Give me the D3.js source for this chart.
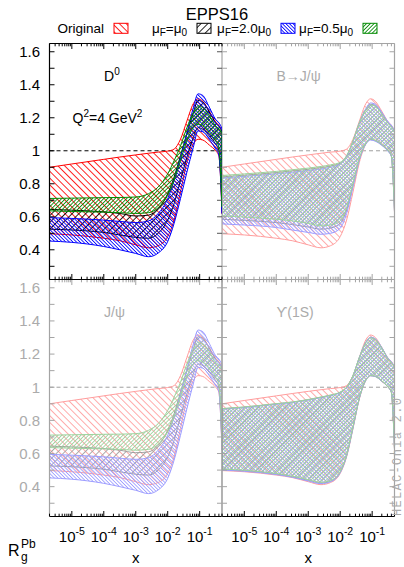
<!DOCTYPE html>
<html>
<head>
<meta charset="utf-8">
<script src="https://cdn.jsdelivr.net/npm/d3@7"></script>
<style>
  html, body { margin: 0; padding: 0; background: #fff; }
  svg { display: block; }
</style>
</head>
<body>
<svg id="chart" width="404" height="567"></svg>
<script>
// ---------------------------------------------------------------
// Data: nuclear modification R_g^Pb at Q^2 = 4 GeV^2 (EPPS16),
// original band and reweighted bands for three factorisation scales.
// All curves are sampled on the same log10(x) grid.
// ---------------------------------------------------------------
const logX = [-5.7, -5, -4, -3.5, -3, -2.6, -2.3, -2, -1.8, -1.6, -1.4, -1.2, -1.05, -0.9, -0.7, -0.5, -0.4, -0.35, -0.3];

const seriesNames = ["Original", "μF=μ0", "μF=2.0μ0", "μF=0.5μ0"];
const panelNames = ["D0", "B→J/ψ", "J/ψ", "ϒ(1S)"];

const xMajorTicks = [1e-5, 1e-4, 1e-3, 1e-2, 1e-1];
const xTickExponents = ["-5", "-4", "-3", "-2", "-1"];
const yTickLabels = [0.4, 0.6, 0.8, 1.0, 1.2, 1.4, 1.6];

// Original EPPS16 band (same in every panel)
const origUpper = [0.900, 0.920, 0.948, 0.962, 0.975, 0.985, 0.992, 0.998, 1.010, 1.070, 1.180, 1.285, 1.315, 1.300, 1.240, 1.175, 1.155, 1.140, 1.120];
const origLower = [0.497, 0.490, 0.470, 0.455, 0.430, 0.412, 0.425, 0.480, 0.580, 0.750, 0.930, 1.040, 1.070, 1.065, 1.035, 1.000, 0.970, 0.850, 0.620];

// Reweighted with D0 data (J/psi data give the same bands)
const d0Mu1Upper  = [0.645, 0.640, 0.630, 0.620, 0.605, 0.610, 0.650, 0.740, 0.840, 0.970, 1.100, 1.230, 1.305, 1.295, 1.235, 1.170, 1.150, 1.135, 1.115];
const d0Mu1Lower  = [0.525, 0.520, 0.505, 0.490, 0.475, 0.470, 0.500, 0.580, 0.680, 0.820, 0.960, 1.080, 1.140, 1.130, 1.090, 1.040, 1.000, 0.870, 0.640];
const d0Mu2Upper  = [0.595, 0.590, 0.580, 0.572, 0.565, 0.575, 0.620, 0.710, 0.820, 0.960, 1.110, 1.260, 1.345, 1.335, 1.265, 1.190, 1.170, 1.155, 1.135];
const d0Mu2Lower  = [0.453, 0.445, 0.420, 0.400, 0.378, 0.358, 0.380, 0.450, 0.560, 0.710, 0.870, 1.020, 1.120, 1.115, 1.070, 1.010, 0.975, 0.850, 0.620];
const d0Mu05Upper = [0.711, 0.713, 0.716, 0.717, 0.720, 0.740, 0.780, 0.860, 0.940, 1.030, 1.140, 1.230, 1.272, 1.262, 1.215, 1.150, 1.135, 1.125, 1.105];
const d0Mu05Lower = [0.636, 0.632, 0.628, 0.625, 0.620, 0.625, 0.655, 0.730, 0.820, 0.940, 1.060, 1.140, 1.160, 1.150, 1.110, 1.060, 1.020, 0.890, 0.660];

// Reweighted with B -> J/psi data
const bMu1Upper  = [0.842, 0.852, 0.868, 0.878, 0.888, 0.898, 0.908, 0.925, 0.968, 1.058, 1.168, 1.250, 1.282, 1.275, 1.228, 1.170, 1.150, 1.135, 1.115];
const bMu1Lower  = [0.585, 0.578, 0.565, 0.553, 0.538, 0.525, 0.532, 0.560, 0.640, 0.790, 0.950, 1.042, 1.068, 1.060, 1.035, 0.998, 0.968, 0.848, 0.628];
const bMu2Upper  = [0.835, 0.845, 0.860, 0.870, 0.880, 0.890, 0.900, 0.920, 0.965, 1.055, 1.170, 1.255, 1.290, 1.282, 1.233, 1.175, 1.155, 1.140, 1.120];
const bMu2Lower  = [0.557, 0.550, 0.535, 0.520, 0.505, 0.494, 0.500, 0.530, 0.620, 0.780, 0.945, 1.040, 1.065, 1.058, 1.033, 0.995, 0.965, 0.845, 0.625];
const bMu05Upper = [0.850, 0.860, 0.875, 0.885, 0.895, 0.905, 0.915, 0.930, 0.970, 1.060, 1.170, 1.248, 1.278, 1.270, 1.222, 1.165, 1.145, 1.130, 1.110];
const bMu05Lower = [0.605, 0.598, 0.585, 0.575, 0.560, 0.545, 0.550, 0.575, 0.655, 0.800, 0.955, 1.045, 1.072, 1.063, 1.038, 1.000, 0.970, 0.850, 0.630];

// Reweighted with Upsilon(1S) data
const upsMu1Upper  = [0.870, 0.880, 0.900, 0.910, 0.925, 0.940, 0.952, 0.970, 1.000, 1.070, 1.180, 1.270, 1.300, 1.290, 1.238, 1.172, 1.152, 1.138, 1.118];
const upsMu1Lower  = [0.503, 0.496, 0.476, 0.460, 0.438, 0.422, 0.433, 0.487, 0.587, 0.757, 0.935, 1.042, 1.070, 1.065, 1.037, 1.000, 0.970, 0.850, 0.620];
const upsMu2Upper  = [0.868, 0.878, 0.898, 0.908, 0.923, 0.938, 0.950, 0.968, 0.998, 1.068, 1.180, 1.272, 1.302, 1.292, 1.240, 1.174, 1.154, 1.140, 1.120];
const upsMu2Lower  = [0.500, 0.493, 0.473, 0.457, 0.434, 0.418, 0.430, 0.484, 0.584, 0.754, 0.933, 1.041, 1.069, 1.064, 1.036, 1.000, 0.970, 0.850, 0.620];
const upsMu05Upper = [0.871, 0.881, 0.901, 0.911, 0.926, 0.941, 0.953, 0.971, 1.001, 1.071, 1.180, 1.268, 1.298, 1.288, 1.236, 1.170, 1.150, 1.136, 1.116];
const upsMu05Lower = [0.506, 0.499, 0.479, 0.463, 0.442, 0.426, 0.437, 0.490, 0.590, 0.760, 0.937, 1.043, 1.071, 1.066, 1.038, 1.001, 0.971, 0.851, 0.621];

// ---------------------------------------------------------------
// Styling
// ---------------------------------------------------------------
const FONT = '"Liberation Sans", Arial, Helvetica, sans-serif';
const GREY = '#a4a4a4';
const TEXT_GREY = '#ababab';
const FADE = 0.38;
const seriesColors = ['#ff0000', '#000000', '#0000ff', '#008a00'];
const hatchAngles = [-45, 45, -45, 45];
const hatchGaps = [4.8, 4.8, 2.5, 2.7];

const svg = d3.select('#chart');
const defs = svg.append('defs');

// hatch patterns: thin lines rotated into "\" or "/" direction
seriesColors.forEach((c, i) => {
  const g = hatchGaps[i];
  const p = defs.append('pattern')
    .attr('id', 'hatch' + i)
    .attr('patternUnits', 'userSpaceOnUse')
    .attr('width', g).attr('height', 10)
    .attr('patternTransform', `rotate(${hatchAngles[i]})`);
  p.append('rect').attr('x', 0).attr('y', 0).attr('width', 0.85).attr('height', 10).attr('fill', c);
});

// layout of the 2x2 grid
const colX = [[49.5, 222], [222, 394.5]];
const rowY = [[43.5, 279.5], [279.5, 516.5]];
const xDomain = [2e-6, 0.5];
const yDomain = [0.22, 1.65];

const zip = (up, lo) => logX.map((lx, i) => ({ lx, up: up[i], lo: lo[i] }));
const origBand = zip(origUpper, origLower);

const panels = [
  { name: panelNames[1], col: 1, row: 0, faded: true,
    bands: [origBand, zip(bMu1Upper, bMu1Lower), zip(bMu2Upper, bMu2Lower), zip(bMu05Upper, bMu05Lower)] },
  { name: panelNames[2], col: 0, row: 1, faded: true,
    bands: [origBand, zip(d0Mu1Upper, d0Mu1Lower), zip(d0Mu2Upper, d0Mu2Lower), zip(d0Mu05Upper, d0Mu05Lower)] },
  { name: panelNames[3], col: 1, row: 1, faded: true,
    bands: [origBand, zip(upsMu1Upper, upsMu1Lower), zip(upsMu2Upper, upsMu2Lower), zip(upsMu05Upper, upsMu05Lower)] },
  { name: panelNames[0], col: 0, row: 0, faded: false,
    bands: [origBand, zip(d0Mu1Upper, d0Mu1Lower), zip(d0Mu2Upper, d0Mu2Lower), zip(d0Mu05Upper, d0Mu05Lower)] },
];

// minor log ticks 2..9 x 10^n inside the domain
const xMinorTicks = [];
for (let e = -6; e <= -1; e++) {
  for (let k = 2; k <= 9; k++) {
    const v = k * Math.pow(10, e);
    if (v >= xDomain[0] && v <= xDomain[1] * 1.0001) xMinorTicks.push(v);
  }
}
const yTicks = d3.range(3, 17).map(d => d / 10);

function labelText(sel, name) {
  // panel labels with sub/superscripts
  if (name === 'D0') {
    sel.append('tspan').text('D');
    sel.append('tspan').attr('dy', -6).attr('font-size', 10).text('0');
  } else {
    sel.text(name);
  }
}

panels.forEach((pn, idx) => {
  const [x0, x1] = colX[pn.col];
  const [y0, y1] = rowY[pn.row];
  const x = d3.scaleLog().domain(xDomain).range([x0, x1]);
  const y = d3.scaleLinear().domain(yDomain).range([y1, y0]);
  const ink = pn.faded ? GREY : '#000';

  const clipId = 'clip' + idx;
  defs.append('clipPath').attr('id', clipId)
    .append('rect').attr('x', x0).attr('y', y0).attr('width', x1 - x0).attr('height', y1 - y0);

  const g = svg.append('g');
  const data = g.append('g').attr('clip-path', `url(#${clipId})`)
    .attr('opacity', pn.faded ? FADE : 1);

  // reference line at R = 1
  data.append('line')
    .attr('x1', x0).attr('x2', x1).attr('y1', y(1)).attr('y2', y(1))
    .attr('stroke', '#000').attr('stroke-width', 1).attr('stroke-dasharray', '4,3');

  const area = d3.area()
    .x(d => x(Math.pow(10, d.lx)))
    .y0(d => y(d.lo)).y1(d => y(d.up))
    .curve(d3.curveMonotoneX);

  pn.bands.forEach((band, i) => {
    data.append('path')
      .attr('d', area(band))
      .attr('fill', `url(#hatch${i})`)
      .attr('stroke', seriesColors[i])
      .attr('stroke-width', 1);
  });

  // frame edges
  const bottomInk = pn.row === 1 ? '#000' : ink;
  const edges = [
    { x1: x0, y1: y0, x2: x1, y2: y0, c: ink },          // top
    { x1: x0, y1: y1, x2: x1, y2: y1, c: bottomInk },    // bottom
    { x1: x0, y1: y0, x2: x0, y2: y1, c: ink },          // left
  ];
  if (pn.faded) edges.push({ x1: x1, y1: y0, x2: x1, y2: y1, c: ink });
  edges.forEach(e => g.append('line')
    .attr('x1', e.x1).attr('y1', e.y1).attr('x2', e.x2).attr('y2', e.y2)
    .attr('stroke', e.c).attr('stroke-width', 1.2));

  // x ticks (top and bottom, inward)
  const tick = (xx, len, c) => {
    g.append('line').attr('x1', xx).attr('x2', xx).attr('y1', y1).attr('y2', y1 - len).attr('stroke', c).attr('stroke-width', 1);
    g.append('line').attr('x1', xx).attr('x2', xx).attr('y1', y0).attr('y2', y0 + len).attr('stroke', ink).attr('stroke-width', 1);
  };
  xMajorTicks.forEach(v => tick(x(v), 5.5, bottomInk));
  xMinorTicks.forEach(v => tick(x(v), 2.8, bottomInk));

  // y ticks (left and right, inward)
  yTicks.forEach(v => {
    const yy = y(v);
    g.append('line').attr('x1', x0).attr('x2', x0 + 5).attr('y1', yy).attr('y2', yy).attr('stroke', ink);
    g.append('line').attr('x1', x1).attr('x2', x1 - 5).attr('y1', yy).attr('y2', yy)
      .attr('stroke', pn.faded ? ink : '#555');
  });

  // y tick labels on the left column
  if (pn.col === 0) {
    yTickLabels.forEach(v => {
      g.append('text')
        .attr('x', 40).attr('y', y(v) + 5.4)
        .attr('text-anchor', 'end')
        .attr('font-family', FONT).attr('font-size', 15)
        .attr('fill', pn.faded ? TEXT_GREY : '#000')
        .text(d3.format('')(Math.round(v * 10) / 10));
    });
  }

  // x tick labels under the bottom row
  if (pn.row === 1) {
    xMajorTicks.forEach((v, i) => {
      const t = g.append('text')
        .attr('x', x(v)).attr('y', 541.7)
        .attr('text-anchor', 'middle')
        .attr('font-family', FONT).attr('font-size', 15).attr('fill', '#000');
      t.append('tspan').text('10');
      t.append('tspan').attr('dy', -7).attr('font-size', 10.5).text(xTickExponents[i]);
    });
    g.append('text')
      .attr('x', (x0 + x1) / 2).attr('y', 563)
      .attr('text-anchor', 'middle')
      .attr('font-family', FONT).attr('font-size', 15).attr('fill', '#000')
      .text('x');
  }

  // panel label
  const lbl = g.append('text')
    .attr('x', x0 + 54.5).attr('y', y0 + 37.2)
    .attr('font-family', FONT).attr('font-size', 14)
    .attr('fill', pn.faded ? TEXT_GREY : '#000');
  labelText(lbl, pn.name);
});

// scale annotation in the highlighted panel
const q = svg.append('text')
  .attr('x', 72.5).attr('y', 123.3)
  .attr('font-family', FONT).attr('font-size', 14).attr('fill', '#000');
q.append('tspan').text('Q');
q.append('tspan').attr('dy', -6).attr('font-size', 10).text('2');
q.append('tspan').attr('dy', 6).text('=4 GeV');
q.append('tspan').attr('dy', -6).attr('font-size', 10).text('2');

// title
svg.append('text')
  .attr('x', 217).attr('y', 19.5)
  .attr('text-anchor', 'middle')
  .attr('font-family', FONT).attr('font-size', 16.5).attr('fill', '#000')
  .text('EPPS16');

// legend
const legendBoxX = [114, 197, 281, 363];
seriesNames.forEach((name, i) => {
  const bx = legendBoxX[i];
  const t = svg.append('text')
    .attr('x', bx - 10).attr('y', 32.5)
    .attr('text-anchor', 'end')
    .attr('font-family', FONT).attr('font-size', 13.5).attr('fill', '#000');
  if (i === 0) {
    t.text(name);
  } else {
    const factor = name.slice(name.indexOf('=') + 1, name.lastIndexOf('μ'));
    t.append('tspan').text('μ');
    t.append('tspan').attr('dy', 3).attr('font-size', 10).text('F');
    t.append('tspan').attr('dy', -3).text('=' + factor + 'μ');
    t.append('tspan').attr('dy', 3).attr('font-size', 10).text('0');
  }
  svg.append('rect')
    .attr('x', bx).attr('y', 23.3).attr('width', 14).attr('height', 10)
    .attr('fill', `url(#hatch${i})`)
    .attr('stroke', seriesColors[i]).attr('stroke-width', 1);
});

// y-axis quantity
svg.append('text').attr('x', 8).attr('y', 556)
  .attr('font-family', FONT).attr('font-size', 16).attr('fill', '#000').text('R');
svg.append('text').attr('x', 21).attr('y', 547.5)
  .attr('font-family', FONT).attr('font-size', 12).attr('fill', '#000').text('Pb');
svg.append('text').attr('x', 21).attr('y', 561)
  .attr('font-family', FONT).attr('font-size', 12).attr('fill', '#000').text('g');

// generator tag along the right edge
svg.append('text')
  .attr('transform', 'translate(401,516) rotate(-90)')
  .attr('font-family', '"Liberation Mono", "DejaVu Sans Mono", monospace')
  .attr('font-size', 12).attr('fill', TEXT_GREY)
  .attr('textLength', 118).attr('lengthAdjust', 'spacing')
  .text('HELAC-Onia 2.0');
</script>
</body>
</html>
